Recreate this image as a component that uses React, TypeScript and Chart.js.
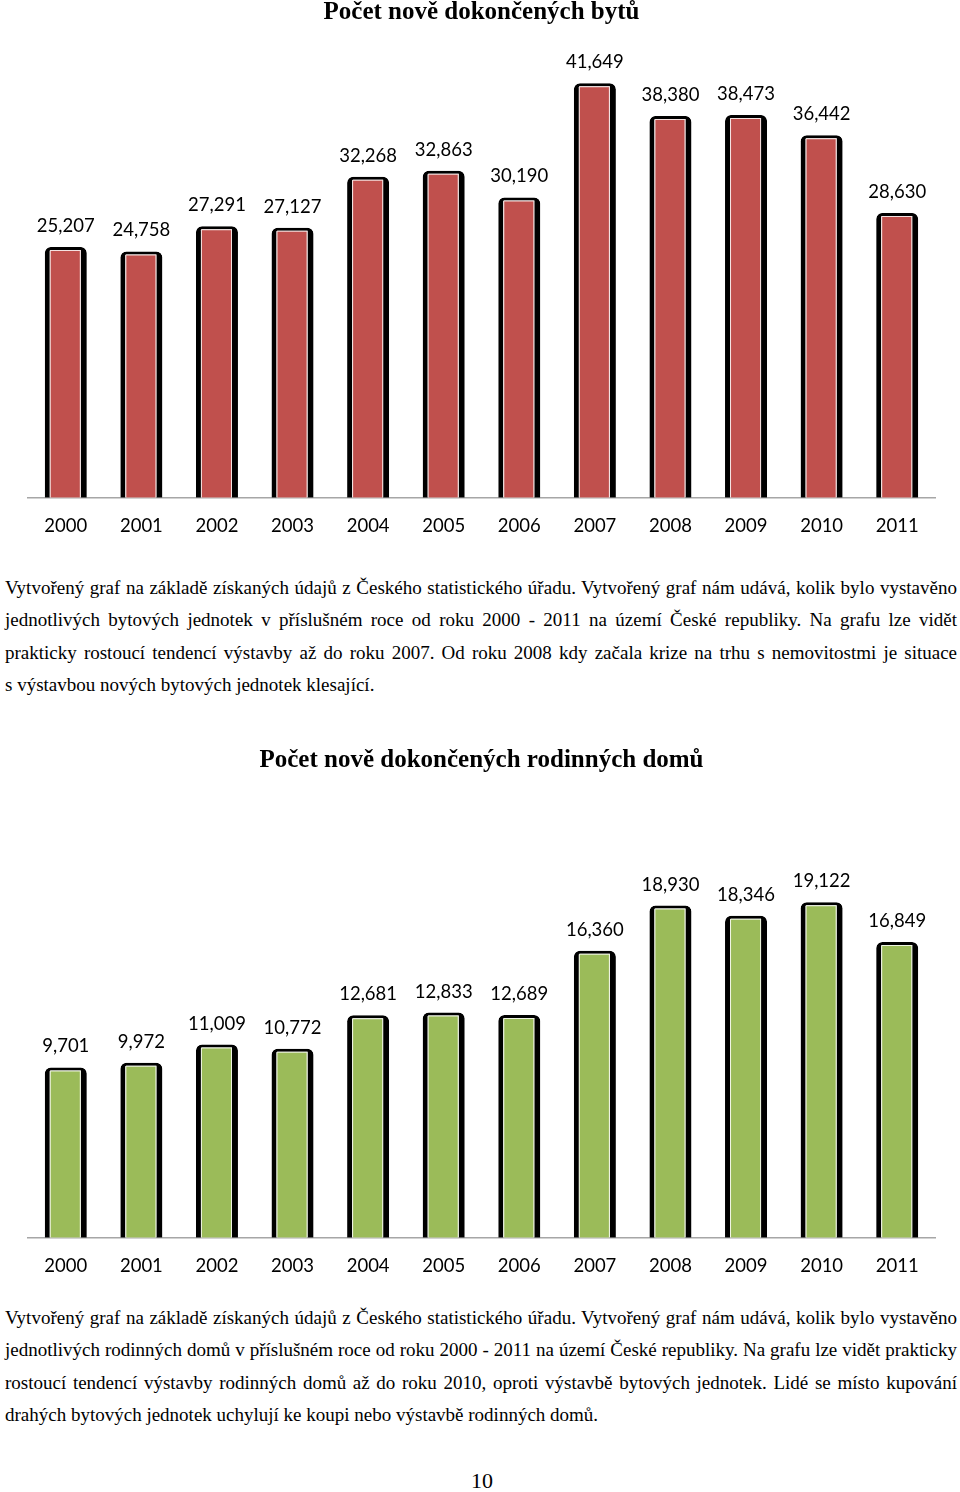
import React, { useEffect, useRef } from 'react';
import { Chart, registerables } from 'chart.js';

Chart.register(...registerables);

const years = ['2000', '2001', '2002', '2003', '2004', '2005', '2006', '2007', '2008', '2009', '2010', '2011'];
const flats = [25207, 24758, 27291, 27127, 32268, 32863, 30190, 41649, 38380, 38473, 36442, 28630];
const houses = [9701, 9972, 11009, 10772, 12681, 12833, 12689, 16360, 18930, 18346, 19122, 16849];

const title1 = 'Počet nově dokončených bytů';
const title2 = 'Počet nově dokončených rodinných domů';

const para1 = [
  'Vytvořený graf na základě získaných údajů z Českého statistického úřadu. Vytvořený graf nám udává, kolik bylo vystavěno',
  'jednotlivých bytových jednotek v\u00a0příslušném roce od roku 2000 - 2011 na území České republiky. Na grafu lze vidět',
  'prakticky rostoucí tendencí výstavby až do roku 2007. Od roku 2008 kdy začala krize na trhu s nemovitostmi je situace',
  's výstavbou nových bytových jednotek klesající.',
];
const para2 = [
  'Vytvořený graf na základě získaných údajů z Českého statistického úřadu. Vytvořený graf nám udává, kolik bylo vystavěno',
  'jednotlivých rodinných domů v příslušném roce od roku 2000 - 2011 na území České republiky. Na grafu lze vidět prakticky',
  'rostoucí tendencí výstavby rodinných domů až do roku 2010, oproti výstavbě bytových jednotek. Lidé se místo kupování',
  'drahých bytových jednotek uchylují ke koupi nebo výstavbě rodinných domů.',
];

const fmt = (v: number) => v.toLocaleString('en-US');

const valueLabels = {
  id: 'valueLabels',
  afterDatasetsDraw(chart: any) {
    const ctx = chart.ctx;
    const meta = chart.getDatasetMeta(0);
    const data = chart.data.datasets[0].data as number[];
    ctx.save();
    ctx.font = '18.5px Lato';
    ctx.fillStyle = '#000';
    ctx.textAlign = 'center';
    ctx.textBaseline = 'middle';
    meta.data.forEach((el: any, i: number) => {
      ctx.fillText(fmt(data[i]), el.x, el.y - 21);
    });
    ctx.restore();
  },
};

function BarChart(props: {
  values: number[];
  color: string;
  line: string;
  title: string;
  max: number;
  width: number;
  height: number;
  titleGap: number;
}) {
  const ref = useRef<HTMLCanvasElement | null>(null);
  useEffect(() => {
    if (!ref.current) return;
    const common = {
      barPercentage: 0.556,
      categoryPercentage: 1,
      grouped: false,
      borderSkipped: 'start' as const,
      borderRadius: { topLeft: 6, topRight: 6, bottomLeft: 0, bottomRight: 0 },
    };
    const chart = new Chart(ref.current, {
      type: 'bar',
      data: {
        labels: years,
        datasets: [
          {
            data: props.values,
            backgroundColor: props.color,
            borderColor: 'rgba(0,0,0,0)',
            borderWidth: { top: 4, left: 6, right: 7, bottom: 0 },
            order: 0,
            ...common,
          },
          {
            data: props.values,
            backgroundColor: props.line,
            borderColor: '#000',
            borderWidth: { top: 3, left: 5, right: 6, bottom: 0 },
            order: 1,
            ...common,
          },
        ],
      },
      options: {
        responsive: false,
        animation: false,
        layout: { padding: { left: 28, right: 25, top: 0, bottom: 0 } },
        plugins: {
          legend: { display: false },
          tooltip: { enabled: false },
          title: {
            display: true,
            text: props.title,
            color: '#000',
            font: { family: 'Liberation Serif', size: 25, weight: 'bold', lineHeight: 1 },
            padding: { top: 0, bottom: props.titleGap },
          },
        },
        scales: {
          x: {
            grid: { display: false, drawTicks: false },
            border: { display: true, color: '#A6A6A6', width: 1.5 },
            ticks: { color: '#000', font: { family: 'Lato', size: 18.5 }, padding: 17 },
          },
          y: { display: false, min: 0, max: props.max },
        },
      },
      plugins: [valueLabels],
    });
    return () => chart.destroy();
  }, []);
  return (
    <canvas
      ref={ref}
      width={props.width}
      height={props.height}
      style={{ width: props.width, height: props.height, display: 'block' }}
    />
  );
}

function Para(props: { lines: string[]; top: number }) {
  return (
    <div
      style={{
        position: 'absolute',
        left: 5,
        top: props.top,
        width: 952,
        fontFamily: '"Liberation Serif", "Times New Roman", serif',
        fontSize: 19,
        lineHeight: '32.6px',
        color: '#000',
      }}
    >
      {props.lines.map((l, i) => (
        <div
          key={i}
          style={{
            textAlign: i === props.lines.length - 1 ? 'left' : 'justify',
            textAlignLast: i === props.lines.length - 1 ? 'left' : 'justify',
            whiteSpace: 'nowrap',
          }}
        >
          {l}
        </div>
      ))}
    </div>
  );
}

export default function App() {
  return (
    <div
      style={{
        position: 'absolute',
        left: 0,
        top: 0,
        width: 960,
        height: 1492,
        background: '#fff',
        overflow: 'hidden',
      }}
    >
      <div style={{ position: 'absolute', left: 0, top: 0 }}>
        <BarChart values={flats} color="#C0504D" line="#F4E2E1" title={title1} max={45000} width={960} height={554} titleGap={25} />
      </div>
      <Para lines={para1} top={571.7} />
      <div style={{ position: 'absolute', left: 0, top: 748 }}>
        <BarChart values={houses} color="#9BBB59" line="#EEF4E2" title={title2} max={25000} width={960} height={546} titleGap={26} />
      </div>
      <Para lines={para2} top={1301.7} />
      <div
        style={{
          position: 'absolute',
          left: 0,
          width: 964,
          top: 1468,
          textAlign: 'center',
          fontFamily: '"Liberation Serif", "Times New Roman", serif',
          fontSize: 22,
          lineHeight: '26px',
          color: '#000',
        }}
      >
        10
      </div>
    </div>
  );
}
